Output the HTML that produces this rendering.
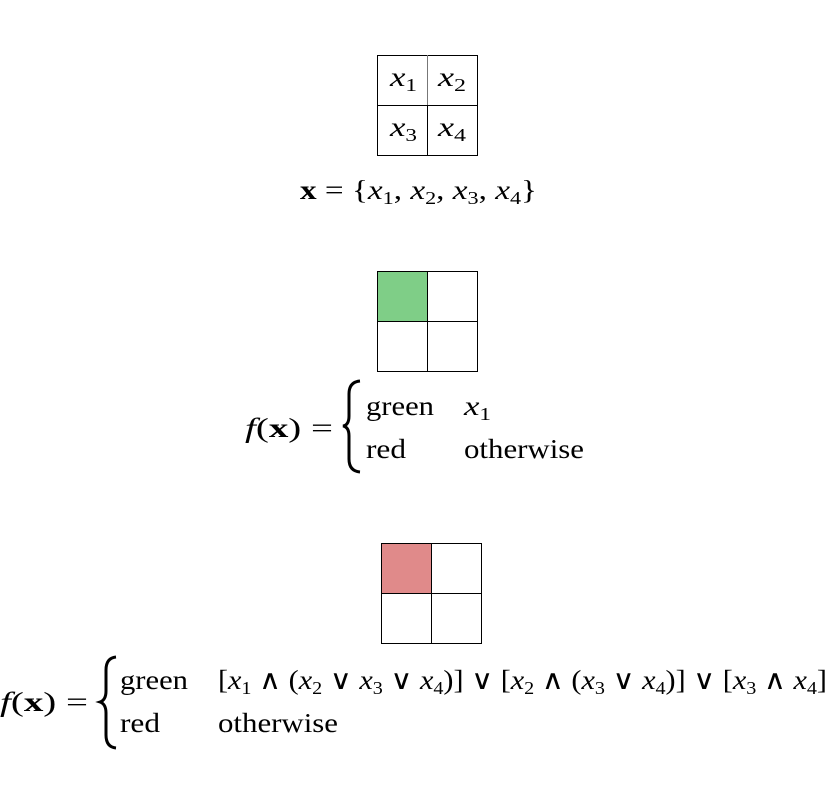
<!DOCTYPE html>
<html><head><meta charset="utf-8"><style>
html,body{margin:0;padding:0;background:#fff;}
svg{display:block;}
text{font-family:"Liberation Serif","DejaVu Serif",serif;fill:#000;}
.i{font-style:italic;}
</style></head><body>
<svg width="827" height="800" viewBox="0 0 827 800">
<g fill="none" stroke="#000" stroke-width="1">
<rect x="377.5" y="55.5" width="100" height="100"/>
<line x1="427.5" y1="55" x2="427.5" y2="155" stroke="#777"/>
<line x1="377" y1="105.5" x2="477" y2="105.5"/>
<line x1="427.5" y1="105" x2="427.5" y2="155"/>
</g>
<g font-size="27">
<text x="390" y="86" textLength="27" lengthAdjust="spacingAndGlyphs"><tspan class="i">x</tspan><tspan font-size="18" dy="5">1</tspan></text>
<text x="438" y="86" textLength="28" lengthAdjust="spacingAndGlyphs"><tspan class="i">x</tspan><tspan font-size="18" dy="5">2</tspan></text>
<text x="390" y="136" textLength="27" lengthAdjust="spacingAndGlyphs"><tspan class="i">x</tspan><tspan font-size="18" dy="5">3</tspan></text>
<text x="438" y="136" textLength="28" lengthAdjust="spacingAndGlyphs"><tspan class="i">x</tspan><tspan font-size="18" dy="5">4</tspan></text>
</g>
<text x="300" y="199" font-size="27" textLength="237" lengthAdjust="spacingAndGlyphs"><tspan font-weight="bold">x</tspan> = {<tspan class="i">x</tspan><tspan font-size="18" dy="5">1</tspan><tspan dy="-5">, </tspan><tspan class="i">x</tspan><tspan font-size="18" dy="5">2</tspan><tspan dy="-5">, </tspan><tspan class="i">x</tspan><tspan font-size="18" dy="5">3</tspan><tspan dy="-5">, </tspan><tspan class="i">x</tspan><tspan font-size="18" dy="5">4</tspan><tspan dy="-5">}</tspan></text>

<g>
<rect x="377.5" y="271.5" width="50" height="50" fill="#7fce87"/>
<g fill="none" stroke="#000"><rect x="377.5" y="271.5" width="100" height="100"/>
<line x1="427.5" y1="271" x2="427.5" y2="371"/><line x1="377" y1="321.5" x2="477" y2="321.5"/></g>
</g>
<g font-size="27">
<text x="245" y="437" textLength="88" lengthAdjust="spacingAndGlyphs"><tspan class="i">f</tspan>(<tspan font-weight="bold">x</tspan>) =</text>
<path d="M360,381 Q349,382 349,394 L349,416 Q349,425 343,426 Q349,427 349,436 L349,459 Q349,471 360,472" fill="none" stroke="#000" stroke-width="3"/>
<text x="366" y="415" textLength="68" lengthAdjust="spacingAndGlyphs">green</text>
<text x="464" y="415" textLength="27" lengthAdjust="spacingAndGlyphs"><tspan class="i">x</tspan><tspan font-size="18" dy="5">1</tspan></text>
<text x="366" y="458" textLength="40" lengthAdjust="spacingAndGlyphs">red</text>
<text x="464" y="458" textLength="120" lengthAdjust="spacingAndGlyphs">otherwise</text>
</g>

<g>
<rect x="381.5" y="543.5" width="50" height="50" fill="#e08a8a"/>
<g fill="none" stroke="#000"><rect x="381.5" y="543.5" width="100" height="100"/>
<line x1="431.5" y1="543" x2="431.5" y2="643"/><line x1="381" y1="593.5" x2="481" y2="593.5"/></g>
</g>
<g font-size="27">
<text x="0" y="711" textLength="88" lengthAdjust="spacingAndGlyphs"><tspan class="i">f</tspan>(<tspan font-weight="bold">x</tspan>) =</text>
<path d="M116,657 Q106,658 106,670 L106,691 Q106,700 100,702 Q106,704 106,713 L106,735 Q106,747 116,748" fill="none" stroke="#000" stroke-width="3"/>
<text x="120" y="689" textLength="68" lengthAdjust="spacingAndGlyphs">green</text>
<text x="218" y="689" textLength="609" lengthAdjust="spacingAndGlyphs">[<tspan class="i">x</tspan><tspan font-size="18" dy="5">1</tspan><tspan dy="-5"> ∧ (</tspan><tspan class="i">x</tspan><tspan font-size="18" dy="5">2</tspan><tspan dy="-5"> ∨ </tspan><tspan class="i">x</tspan><tspan font-size="18" dy="5">3</tspan><tspan dy="-5"> ∨ </tspan><tspan class="i">x</tspan><tspan font-size="18" dy="5">4</tspan><tspan dy="-5">)] ∨ [</tspan><tspan class="i">x</tspan><tspan font-size="18" dy="5">2</tspan><tspan dy="-5"> ∧ (</tspan><tspan class="i">x</tspan><tspan font-size="18" dy="5">3</tspan><tspan dy="-5"> ∨ </tspan><tspan class="i">x</tspan><tspan font-size="18" dy="5">4</tspan><tspan dy="-5">)] ∨ [</tspan><tspan class="i">x</tspan><tspan font-size="18" dy="5">3</tspan><tspan dy="-5"> ∧ </tspan><tspan class="i">x</tspan><tspan font-size="18" dy="5">4</tspan><tspan dy="-5">]</tspan></text>
<text x="120" y="732" textLength="40" lengthAdjust="spacingAndGlyphs">red</text>
<text x="218" y="732" textLength="120" lengthAdjust="spacingAndGlyphs">otherwise</text>
</g>
</svg>
</body></html>
